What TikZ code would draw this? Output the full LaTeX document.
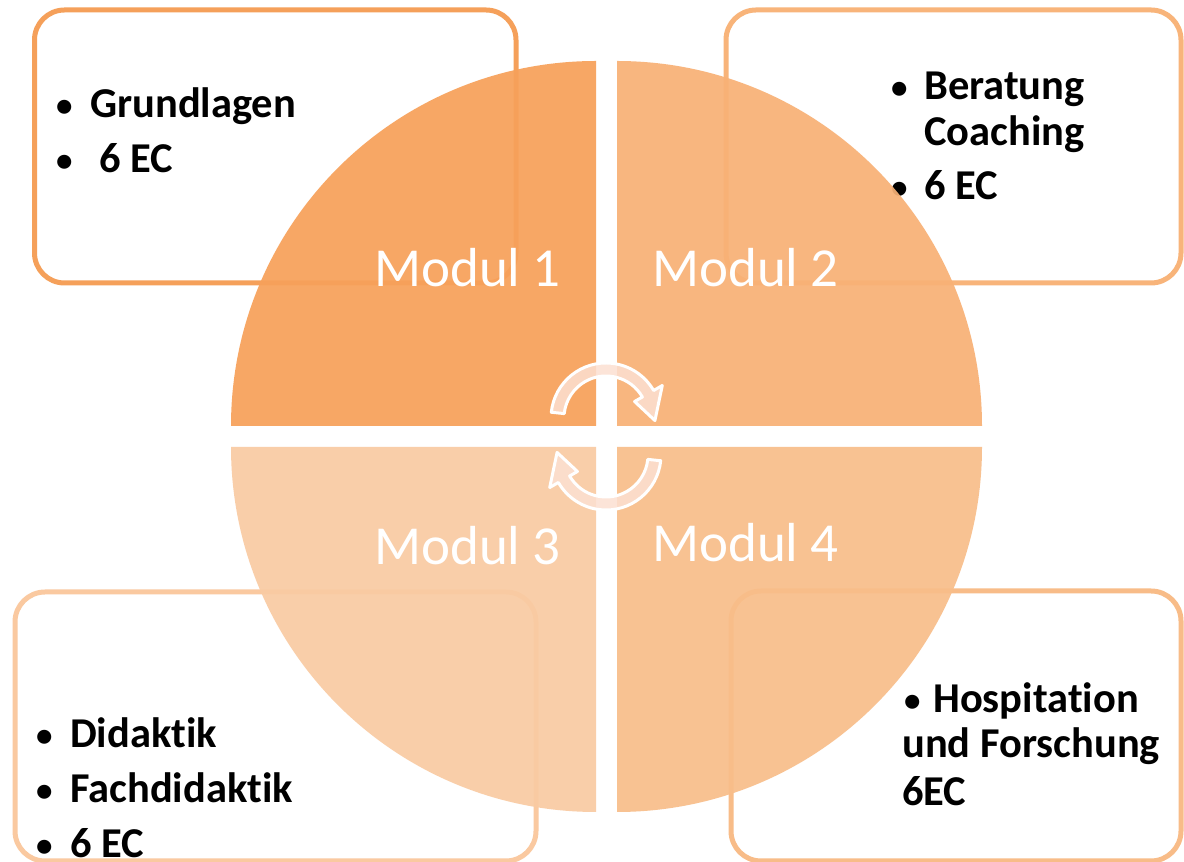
\documentclass[tikz,border=0pt]{standalone}
\usepackage{fontspec}
\setmainfont{Carlito}[Ligatures={NoCommon,NoContextual}]
\definecolor{qa}{HTML}{F7A15A}
\definecolor{qb}{HTML}{F8B176}
\definecolor{qc}{HTML}{F9CBA3}
\definecolor{qd}{HTML}{F8BE8A}
\definecolor{ba}{HTML}{F5A05A}
\definecolor{bb}{HTML}{F8B47A}
\definecolor{bc}{HTML}{FAC9A0}
\definecolor{bd}{HTML}{F8BC88}
\definecolor{arrowfill}{HTML}{FCE0D2}
\tikzset{
  box/.style={line width=5pt, rounded corners=30pt},
  quad/.style={fill opacity=0.93, draw=none},
  item/.style={anchor=base west, inner sep=0pt, font=\fontsize{42.5}{50}\selectfont\bfseries},
  bul/.style={anchor=base west, inner sep=0pt, font=\fontsize{33}{40}\selectfont\bfseries},
  modlabel/.style={anchor=base west, inner sep=0pt, text=white, font=\fontsize{55}{66}\selectfont},
  cyc/.style={fill=arrowfill, fill opacity=0.85, draw=white, line width=3pt, line join=round}
}
\begin{document}
\begin{tikzpicture}[x=1pt,y=1pt]
\useasboundingbox (0,0) rectangle (1184,862);
\fill[white] (0,0) rectangle (1184,862);
% boxes
\draw[box, draw=ba] (34.5,852) rectangle (516,579);
\draw[box, draw=bb] (726,852) rectangle (1181,579);
\draw[box, draw=bc] (15,270) rectangle (536,1);
\draw[box, draw=bd] (731,271) rectangle (1181,1);
% box texts
\node[bul] (b1a) at (56,745) {•};
\node[item] (t1a) at (90,744) {Grundlagen};
\node[bul] (b1b) at (56,690) {•};
\node[item] (t1b) at (99,689) {6 EC};
\node[bul] (b2a) at (891,763) {•};
\node[item] (t2a) at (924,762) {Beratung};
\node[item] (t2b) at (924,716) {Coaching};
\node[bul] (b2c) at (891,663) {•};
\node[item] (t2c) at (924,662) {6 EC};
\node[bul] (b3a) at (36,115) {•};
\node[item] (t3a) at (70,114) {Didaktik};
\node[bul] (b3b) at (36,60) {•};
\node[item] (t3b) at (70,59) {Fachdidaktik};
\node[bul] (b3c) at (36,5) {•};
\node[item] (t3c) at (70,4) {6 EC};
\node[bul] (b4a) at (904,150) {•};
\node[item] (t4a) at (933,149) {Hospitation};
\node[item] (t4b) at (902,104) {und Forschung};
\node[item] (t4c) at (902,56) {6EC};
% quadrants
\fill[quad, qa] (596,436) -- (231,436) arc[start angle=180, end angle=90, radius=365] -- cycle;
\fill[quad, qb] (617,436) -- (617,801) arc[start angle=90, end angle=0, radius=365] -- cycle;
\fill[quad, qc] (596,415) -- (596,50) arc[start angle=270, end angle=180, radius=365] -- cycle;
\fill[quad, qd] (617,415) -- (982,415) arc[start angle=0, end angle=-90, radius=365] -- cycle;
% module labels
\node[modlabel] (m1) at (374,575) {Modul 1};
\node[modlabel] (m2) at (652,575) {Modul 2};
\node[modlabel] (m3) at (374,297) {Modul 3};
\node[modlabel] (m4) at (652,300) {Modul 4};
% cycle arrows
\begin{scope}[shift={(606,444)}]
\draw[cyc] (174:42) -- (174:55) arc[start angle=174, end angle=30, radius=55] -- (30:65) -- (-3:49) -- (30:33) -- (30:42) arc[start angle=30, end angle=174, radius=42] -- cycle;
\end{scope}
\begin{scope}[shift={(606,407)}, rotate=180]
\draw[cyc] (174:42) -- (174:55) arc[start angle=174, end angle=30, radius=55] -- (30:65) -- (-3:49) -- (30:33) -- (30:42) arc[start angle=30, end angle=174, radius=42] -- cycle;
\end{scope}
\end{tikzpicture}
\end{document}
